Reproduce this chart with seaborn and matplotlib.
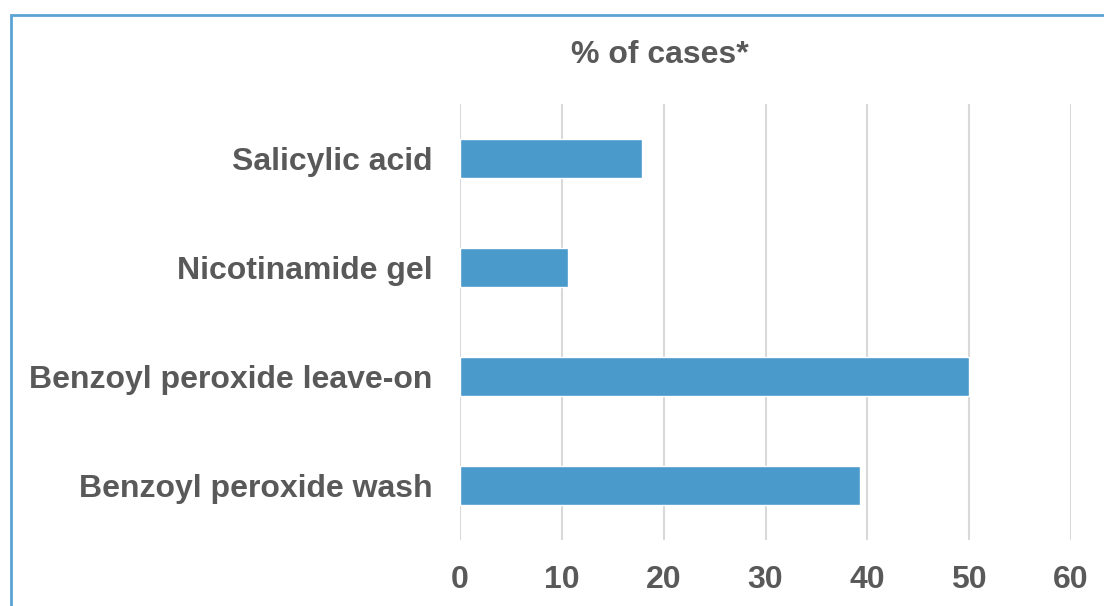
import matplotlib
matplotlib.use("Agg")
import matplotlib.pyplot as plt
import matplotlib.patches as mpatches
import pandas as pd
import seaborn as sns

# data
treatments = ["Salicylic acid", "Nicotinamide gel", "Benzoyl peroxide leave-on", "Benzoyl peroxide wash"]
pct_cases = [17.9, 10.6, 50.0, 39.3]
x_ticks = [0, 10, 20, 30, 40, 50, 60]

df = pd.DataFrame({"treatment": treatments, "pct": pct_cases})

sns.set_theme(style="white")
plt.rcParams["font.family"] = ["Liberation Sans", "DejaVu Sans"]

text_grey = "#595959"
bar_blue = "#4A9ACB"

fig = plt.figure(figsize=(11.04, 6.06), dpi=100)
ax = fig.add_axes([460 / 1104, 66 / 606, 611 / 1104, 436 / 606])

sns.barplot(data=df, x="pct", y="treatment", orient="h", color=bar_blue,
            width=0.36, saturation=1, ax=ax, zorder=3)

ax.set_xlim(0, 60)
ax.set_ylim(3.5, -0.5)
ax.set_xticks(x_ticks)
ax.xaxis.grid(True, color="#D9D9D9", linewidth=1.5, zorder=0)
ax.set_axisbelow(True)
for s in ax.spines.values():
    s.set_visible(False)
ax.tick_params(axis="both", length=0)
ax.tick_params(axis="x", pad=18, labelsize=23, labelcolor=text_grey)
ax.tick_params(axis="y", pad=20, labelsize=23, labelcolor=text_grey)
for lbl in ax.get_xticklabels() + ax.get_yticklabels():
    lbl.set_fontweight("bold")
ax.set_xlabel("")
ax.set_ylabel("")

fig.text(660 / 1104, 1 - 55 / 606, "% of cases*", ha="center", va="center",
         fontsize=23, fontweight="bold", color=text_grey)

# thin blue frame round the chart area (runs off the right and bottom edges)
frame = mpatches.Rectangle((11 / 1104, -0.05), 1.2, 1 - 15 / 606 + 0.05,
                           transform=fig.transFigure, fill=False,
                           edgecolor="#5BA3D5", linewidth=2.0)
fig.patches.append(frame)

fig.savefig("out.png", dpi=100)
